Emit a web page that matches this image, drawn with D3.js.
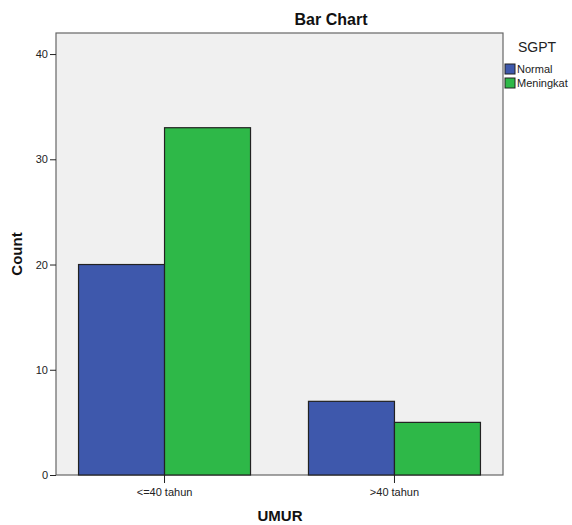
<!DOCTYPE html>
<html><head><meta charset="utf-8">
<script src="https://cdn.jsdelivr.net/npm/d3@7"></script>
<style>body{margin:0;background:#fff}svg{font-family:Arial,"Liberation Sans",sans-serif}</style>
</head><body><svg id="c" width="572" height="525"></svg>
<script>
const categories = ["<=40 tahun", ">40 tahun"];
const seriesNames = ["Normal", "Meningkat"];
const normalValues = [20, 7];
const meningkatValues = [33, 5];
const yTicks = [0, 10, 20, 30, 40];
const colors = ["#3e58ac", "#2eb848"];

const svg = d3.select("#c");
const L = 56, R = 503, T = 33, B = 475;
const x0 = d3.scaleBand().domain(categories).range([L, R]).paddingInner(0.252).paddingOuter(0.098);
const x1 = d3.scaleBand().domain(seriesNames).range([0, x0.bandwidth()]);
const y = d3.scaleLinear().domain([0, 42]).range([B, T]);

svg.append("rect").attr("x", L).attr("y", T).attr("width", R - L).attr("height", B - T)
  .attr("fill", "#f0f0f0").attr("stroke", "#666").attr("stroke-width", 1.2);

const data = categories.map((c, i) => ({cat: c, vals: [normalValues[i], meningkatValues[i]]}));
const g = svg.append("g");
data.forEach(d => {
  d.vals.forEach((v, j) => {
    g.append("rect")
      .attr("x", x0(d.cat) + x1(seriesNames[j]))
      .attr("y", y(v))
      .attr("width", x1.bandwidth())
      .attr("height", y(0) - y(v))
      .attr("fill", colors[j]).attr("stroke", "#222").attr("stroke-width", 1.2);
  });
});

// y axis
const ya = svg.append("g").attr("transform", `translate(${L},0)`)
  .call(d3.axisLeft(y).tickValues(yTicks).tickSize(6).tickPadding(2));
ya.select(".domain").remove();
ya.selectAll("line").attr("stroke", "#222");
ya.selectAll("text").attr("font-size", 11).attr("fill", "#222").attr("font-family", "Arial,'Liberation Sans',sans-serif");

// x axis
const xa = svg.append("g").attr("transform", `translate(0,${B})`)
  .call(d3.axisBottom(x0).tickSize(8).tickPadding(5));
xa.select(".domain").remove();
xa.selectAll("line").attr("stroke", "#222");
xa.selectAll("text").attr("font-size", 11).attr("fill", "#222").attr("font-family", "Arial,'Liberation Sans',sans-serif");

svg.append("text").attr("x", 331).attr("y", 25).attr("text-anchor", "middle")
  .attr("font-size", 16).attr("font-weight", "bold").attr("fill", "#111").text("Bar Chart");
svg.append("text").attr("transform", "translate(22,254) rotate(-90)").attr("text-anchor", "middle")
  .attr("font-size", 15).attr("font-weight", "bold").attr("fill", "#111").text("Count");
svg.append("text").attr("x", 280).attr("y", 521).attr("text-anchor", "middle")
  .attr("font-size", 15).attr("font-weight", "bold").attr("fill", "#111").text("UMUR");

// legend
svg.append("text").attr("x", 537).attr("y", 52).attr("text-anchor", "middle")
  .attr("font-size", 14).attr("fill", "#222").text("SGPT");
seriesNames.forEach((s, j) => {
  svg.append("rect").attr("x", 505).attr("y", 64 + j * 14).attr("width", 10).attr("height", 10)
    .attr("fill", colors[j]).attr("stroke", "#222").attr("stroke-width", 1);
  svg.append("text").attr("x", 517).attr("y", 73 + j * 14).attr("font-size", 11).attr("fill", "#222").text(s);
});
</script></body></html>
